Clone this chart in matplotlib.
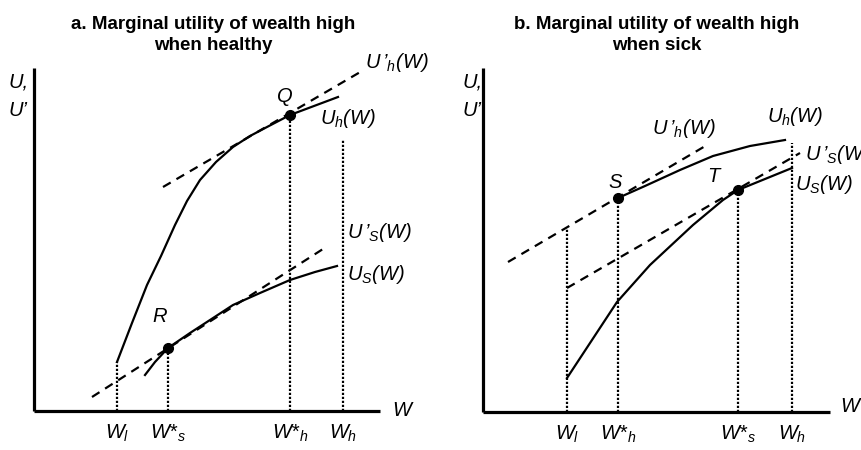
import matplotlib
matplotlib.use("Agg")
import matplotlib.pyplot as plt

plt.rcParams['font.family'] = ['Liberation Sans', 'DejaVu Sans']
plt.rcParams['mathtext.fontset'] = 'custom'
plt.rcParams['mathtext.it'] = 'Liberation Sans:italic'
plt.rcParams['mathtext.rm'] = 'Liberation Sans:italic'
plt.rcParams['mathtext.sf'] = 'Liberation Sans:italic'

# ---- panel a: marginal utility of wealth high when healthy ----
# wealth W and utility U (arbitrary units)
a_uh_w = [83, 98, 113, 127, 141, 153, 166, 182, 199, 216, 233, 256, 280, 304]
a_uh_u = [49, 88, 126, 155, 186, 210, 231, 249, 264, 275, 284, 296, 305, 314]
a_us_w = [111, 121, 134, 156, 176, 199, 226, 256, 281, 303]
a_us_u = [36, 49, 63, 78, 91, 106, 118, 131, 139, 145]
a_tan_h_w = [129, 328]
a_tan_h_u = [224, 340]
a_tan_s_w = [58, 289]
a_tan_s_u = [14, 162]
a_points = {"Q": (256, 296), "R": (134, 63)}
a_ticks_w = [83, 134, 256, 309]
a_ticks_top = [49, 63, 296, 271]
a_tick_labels = [r"$W_{l}$", r"$W{*}_{s}$", r"$W{*}_{h}$", r"$W_{h}$"]

# ---- panel b: marginal utility of wealth high when sick ----
b_uh_w = [135, 162, 197, 230, 267, 302]
b_uh_u = [214, 226, 242, 256, 266, 272]
b_us_w = [84, 109, 134, 167, 210, 240, 255, 282, 309]
b_us_u = [34, 72, 110, 147, 187, 212, 222, 233, 244]
b_tan_h_w = [25, 224]
b_tan_h_u = [150, 267]
b_tan_s_w = [84, 317]
b_tan_s_u = [124, 259]
b_points = {"S": (135, 214), "T": (255, 222)}
b_ticks_w = [84, 135, 255, 309]
b_ticks_top = [185, 214, 222, 269]
b_tick_labels = [r"$W_{l}$", r"$W{*}_{h}$", r"$W{*}_{s}$", r"$W_{h}$"]

LABEL_FS = 14.5
TITLE_FS = 13.5


def draw_panel(ax, uh, us, tan_h, tan_s, points, ticks_w, ticks_top, tick_labels,
               y_len, x_len):
    # axes
    ax.plot([0, 0], [0, y_len], color='black', lw=2.3, solid_capstyle='butt')
    ax.plot([0, x_len], [0, 0], color='black', lw=2.3, solid_capstyle='butt')
    # dotted drop lines
    for w, top in zip(ticks_w, ticks_top):
        ax.plot([w, w], [0, top], color='black', lw=1.6, linestyle=(0, (1, 0.8)))
    # tangents
    ax.plot(*tan_h, color='black', lw=1.6, linestyle=(0, (4, 3)))
    ax.plot(*tan_s, color='black', lw=1.6, linestyle=(0, (4, 3)))
    # utility curves
    ax.plot(*uh, color='black', lw=1.6)
    ax.plot(*us, color='black', lw=1.6)
    for name, (w, u) in points.items():
        ax.plot(w, u, 'o', color='black', ms=7)
    for w, lab in zip(ticks_w, tick_labels):
        ax.text(w, -22, lab, ha='center', va='center', fontsize=LABEL_FS)
    ax.axis('off')


fig = plt.figure(figsize=(8.61, 4.5), dpi=100)

ax_a = fig.add_axes([0, 0, 430 / 861, 1])
ax_a.set_xlim(-34, 396)
ax_a.set_ylim(-39, 411)
draw_panel(ax_a, (a_uh_w, a_uh_u), (a_us_w, a_us_u), (a_tan_h_w, a_tan_h_u),
           (a_tan_s_w, a_tan_s_u), a_points, a_ticks_w, a_ticks_top, a_tick_labels,
           343, 346)
ax_a.text(179, 376, "a. Marginal utility of wealth high\nwhen healthy", ha='center',
          va='center', fontsize=TITLE_FS, fontweight='bold', linespacing=1.35)
ax_a.text(-26, 329, "U,", ha='left', va='center', fontsize=LABEL_FS, style='italic')
ax_a.text(-26, 301, "U’", ha='left', va='center', fontsize=LABEL_FS, style='italic')
ax_a.text(251, 314, "Q", ha='center', va='center', fontsize=LABEL_FS, style='italic')
ax_a.text(126, 94, "R", ha='center', va='center', fontsize=LABEL_FS, style='italic')
ax_a.text(331, 349, r"$U\,’_{h}(W)$", ha='left', va='center', fontsize=LABEL_FS)
ax_a.text(286, 293, r"$U_{h}(W)$", ha='left', va='center', fontsize=LABEL_FS)
ax_a.text(313, 178, r"$U\,’_{S}(W)$", ha='left', va='center', fontsize=LABEL_FS)
ax_a.text(313, 136, r"$U_{S}(W)$", ha='left', va='center', fontsize=LABEL_FS)
ax_a.text(358, 1, "W", ha='left', va='center', fontsize=LABEL_FS, style='italic')

ax_b = fig.add_axes([430 / 861, 0, 431 / 861, 1])
ax_b.set_xlim(-53, 378)
ax_b.set_ylim(-38, 412)
draw_panel(ax_b, (b_uh_w, b_uh_u), (b_us_w, b_us_u), (b_tan_h_w, b_tan_h_u),
           (b_tan_s_w, b_tan_s_u), b_points, b_ticks_w, b_ticks_top, b_tick_labels,
           344, 347)
ax_b.text(174, 377, "b. Marginal utility of wealth high\nwhen sick", ha='center',
          va='center', fontsize=TITLE_FS, fontweight='bold', linespacing=1.35)
ax_b.text(-21, 330, "U,", ha='left', va='center', fontsize=LABEL_FS, style='italic')
ax_b.text(-21, 302, "U’", ha='left', va='center', fontsize=LABEL_FS, style='italic')
ax_b.text(132, 230, "S", ha='center', va='center', fontsize=LABEL_FS, style='italic')
ax_b.text(230, 235, "T", ha='center', va='center', fontsize=LABEL_FS, style='italic')
ax_b.text(169, 284, r"$U\,’_{h}(W)$", ha='left', va='center', fontsize=LABEL_FS)
ax_b.text(284, 295, r"$U_{h}(W)$", ha='left', va='center', fontsize=LABEL_FS)
ax_b.text(322, 257, r"$U\,’_{S}(W)$", ha='left', va='center', fontsize=LABEL_FS)
ax_b.text(312, 227, r"$U_{S}(W)$", ha='left', va='center', fontsize=LABEL_FS)
ax_b.text(357, 5, "W", ha='left', va='center', fontsize=LABEL_FS, style='italic')

fig.savefig("out.png", dpi=100)
